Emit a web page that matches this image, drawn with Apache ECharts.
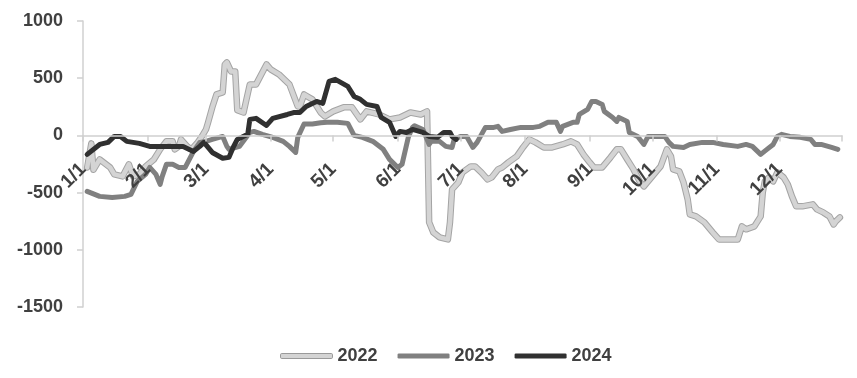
<!DOCTYPE html>
<html>
<head>
<meta charset="utf-8">
<script src="https://cdn.jsdelivr.net/npm/echarts@6/dist/echarts.min.js"></script>
<style>
html,body{margin:0;padding:0;background:#fff;}
#c{width:857px;height:378px;}
</style>
</head>
<body>
<div id="c"></div>
<script>
// categories: every day of the year, "M/D"
const monthDays = [31,28,31,30,31,30,31,31,30,31,30,31];
const categories = [];
monthDays.forEach((n, m) => { for (let d = 1; d <= n; d++) categories.push((m + 1) + '/' + d); });

const yTicks = { min: -1500, max: 1000, interval: 500 };
const seriesNames = ['2022', '2023', '2024'];

const dates2022 = ['1/3','1/5','1/6','1/9','1/14','1/16','1/20','1/23','1/25','1/28',
'1/31','2/4','2/7','2/10','2/13','2/14','2/16','2/17','2/20','2/22',
'2/25','2/27','3/1','3/2','3/4','3/6','3/9','3/10','3/11','3/13',
'3/15','3/16','3/19','3/22','3/25','3/30','4/1','4/5','4/10','4/14',
'4/15','4/17','4/21','4/25','4/27','5/1','5/6','5/10','5/14','5/17',
'5/23','5/28','6/2','6/7','6/12','6/15','6/16','6/18','6/21','6/25',
'6/26','6/27','6/30','7/2','7/6','7/8','7/11','7/14','7/16','7/19',
'7/21','7/24','7/28','7/31','8/3','8/6','8/10','8/14','8/19','8/23',
'8/26','8/29','9/1','9/3','9/7','9/11','9/14','9/16','9/19','9/22',
'9/25','9/27','10/1','10/5','10/8','10/10','10/11','10/14','10/16','10/18',
'10/19','10/22','10/26','10/30','11/2','11/7','11/11','11/13','11/15','11/19',
'11/22','11/23','11/24','11/26','11/28','11/30','12/3','12/5','12/7','12/9',
'12/12','12/17','12/19','12/22','12/25','12/27','12/28','12/30'];
const vals2022 = [-280,-70,-300,-210,-280,-341,-358,-253,-358,-341,
-271,-210,-122,-52,-52,-122,-96,-35,-96,-122,
-61,-9,52,114,245,358,376,620,638,559,
559,220,200,446,446,620,577,533,446,253,
253,358,315,200,166,210,245,245,140,210,
183,140,157,200,183,210,-760,-848,-891,-909,
-760,-472,-411,-323,-271,-271,-323,-385,-367,-297,
-280,-236,-184,-105,-35,-61,-105,-105,-79,-52,
-79,-166,-236,-280,-280,-192,-122,-122,-210,-297,
-402,-446,-358,-271,-122,-184,-297,-315,-411,-559,
-690,-708,-760,-848,-909,-909,-909,-795,-821,-795,
-708,-498,-402,-367,-402,-323,-367,-428,-533,-620,
-620,-603,-647,-673,-708,-778,-752,-717];

const dates2023 = ['1/3','1/9','1/15','1/21','1/24','1/27','1/31','2/2','2/5','2/7',
'2/8','2/10','2/13','2/16','2/19','2/21','2/23','2/26','3/1','3/4',
'3/9','3/11','3/12','3/17','3/22','3/24','3/28','4/2','4/7','4/10',
'4/13','4/14','4/17','4/21','4/25','4/28','5/3','5/8','5/11','5/15',
'5/20','5/25','5/28','6/1','6/3','6/6','6/8','6/9','6/13','6/14',
'6/16','6/17','6/21','6/24','6/27','6/28','7/1','7/4','7/7','7/9',
'7/13','7/17','7/19','7/21','7/25','7/30','8/5','8/8','8/12','8/16',
'8/18','8/19','8/24','8/26','8/27','8/31','9/2','9/4','9/7','9/8',
'9/12','9/14','9/15','9/19','9/20','9/24','9/27','9/29','10/1','10/7',
'10/9','10/11','10/16','10/19','10/25','10/30','11/4','11/11','11/15','11/18',
'11/22','11/25','11/28','11/30','12/2','12/6','12/11','12/16','12/18','12/21',
'12/26','12/29'];
const vals2023 = [-489,-533,-542,-533,-516,-402,-341,-280,-341,-428,
-358,-253,-253,-280,-280,-210,-140,-61,-52,-35,
-9,-96,-122,-96,26,35,9,-17,-52,-96,
-149,-17,100,100,110,115,115,105,0,-17,
-52,-122,-210,-280,-253,-17,70,85,52,9,
-79,-52,-52,-96,-105,-35,-9,-9,-105,-61,
70,70,79,35,52,70,70,79,114,114,
35,79,114,114,183,227,297,297,271,210,
157,122,157,122,26,-9,-79,-9,-9,-9,
-61,-96,-105,-79,-61,-61,-79,-96,-79,-96,
-166,-122,-79,-9,9,-9,-17,-35,-79,-79,
-105,-122];

const dates2024 = ['1/3','1/9','1/13','1/16','1/19','1/22','1/28',
'2/2','2/10','2/18','2/23','2/26','2/28',
'3/4','3/9','3/12','3/14','3/16','3/21','3/22','3/25','3/30',
'4/2','4/9','4/12','4/15','4/18','4/23','4/26','4/29',
'5/2','5/8','5/11','5/14','5/17','5/22','5/24','5/28','5/31',
'6/2','6/5','6/8','6/13','6/16','6/20','6/23','6/26','6/27','6/29'];
const vals2024 = [-166,-79,-61,-9,-9,-52,-70,
-96,-96,-96,-140,-96,-61,
-149,-200,-192,-105,-35,9,140,149,87,
149,183,200,200,253,297,280,472,
490,428,341,315,271,253,157,114,-9,
35,26,52,26,-9,-17,26,26,-9,-35];

function zip(dates, vals) {
  return dates.map((d, i) => [categories.indexOf(d), vals[i]]);
}

const FONT = 'Liberation Sans';
const TXT = '#404040';
const isMonthStart = (idx, val) => /^\d+\/1$/.test(val);

const GRID = { left: 83, right: 15, top: 21, bottom: 71 };
const gridH = 378 - GRID.top - GRID.bottom;
// place the category axis on the value 0 line
const zeroOffset = -gridH * (0 - yTicks.min) / (yTicks.max - yTicks.min);

const chart = echarts.init(document.getElementById('c'), null, { renderer: 'canvas' });
chart.setOption({
  animation: false,
  backgroundColor: '#ffffff',
  grid: Object.assign({ containLabel: false, outerBoundsMode: 'none' }, GRID),
  legend: {
    left: 275, top: 342,
    itemWidth: 52, itemHeight: 5, itemGap: 20,
    icon: 'roundRect',
    textStyle: { fontFamily: FONT, fontSize: 18, fontWeight: 'bold', color: TXT },
    data: [
      { name: '2022', itemStyle: { color: '#d4d4d4', borderColor: '#9a9a9a', borderWidth: 1 } },
      { name: '2023', itemStyle: { color: '#808080' } },
      { name: '2024', itemStyle: { color: '#303030' } }
    ]
  },
  xAxis: {
    type: 'category',
    data: categories,
    boundaryGap: false,
    position: 'bottom',
    offset: zeroOffset,
    z: 10,
    axisLine: { onZero: false, lineStyle: { color: '#d0d0d0', width: 1.5 } },
    axisTick: {
      show: true, length: 6, inside: false,
      interval: (idx, val) => isMonthStart(idx, val) || idx === categories.length - 1,
      lineStyle: { color: '#d0d0d0', width: 1.5 }
    },
    axisLabel: {
      interval: isMonthStart,
      rotate: 45, margin: 31,
      fontFamily: FONT, fontSize: 19, fontWeight: 'bold', color: TXT
    },
    splitLine: { show: false }
  },
  yAxis: {
    type: 'value',
    min: yTicks.min, max: yTicks.max, interval: yTicks.interval,
    axisLine: { show: true, lineStyle: { color: '#d0d0d0', width: 1.5 } },
    axisTick: { show: true, length: 6, lineStyle: { color: '#d0d0d0', width: 1.5 } },
    axisLabel: { margin: 20, fontFamily: FONT, fontSize: 18, fontWeight: 'bold', color: TXT,
      formatter: v => String(v) },
    splitLine: { show: false }
  },
  series: [
    {
      name: '2022o', type: 'line', silent: true, showSymbol: false, symbol: 'none',
      data: zip(dates2022, vals2022),
      lineStyle: { color: '#a4a4a4', width: 6.5, join: 'round', cap: 'round' }, z: 1
    },
    {
      name: seriesNames[0], type: 'line', showSymbol: false, symbol: 'none',
      data: zip(dates2022, vals2022),
      itemStyle: { color: '#d4d4d4' },
      lineStyle: { color: '#d4d4d4', width: 4.5, join: 'round', cap: 'round' }, z: 2
    },
    {
      name: seriesNames[1], type: 'line', showSymbol: false, symbol: 'none',
      data: zip(dates2023, vals2023),
      itemStyle: { color: '#808080' },
      lineStyle: { color: '#808080', width: 5, join: 'round', cap: 'round' }, z: 3
    },
    {
      name: seriesNames[2], type: 'line', showSymbol: false, symbol: 'none',
      data: zip(dates2024, vals2024),
      itemStyle: { color: '#303030' },
      lineStyle: { color: '#303030', width: 5, join: 'round', cap: 'round' }, z: 4
    }
  ]
});
</script>
</body>
</html>
